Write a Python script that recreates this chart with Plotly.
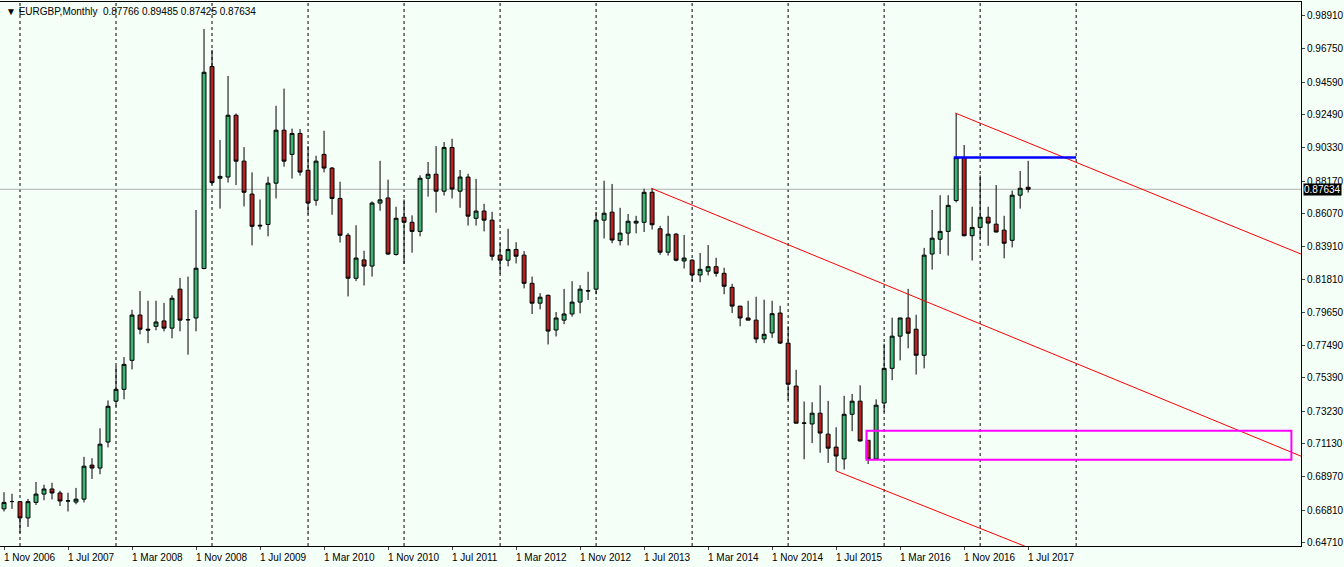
import plotly.graph_objects as go

# Monthly EURGBP candles, Nov 2006 .. Jul 2017 (index 0 = Nov 2006)
opens = [0.6689,0.6736,0.6736,0.6630,0.6731,0.6785,0.6818,0.6792,0.6740,0.6733,
         0.6752,0.6973,0.6954,0.7123,0.7388,0.7465,0.7653,0.7947,0.7855,0.7874,
         0.7909,0.7862,0.8115,0.7918,0.7928,0.8249,0.9560,0.8835,0.8843,0.9244,
         0.8946,0.8732,0.8530,0.8535,0.8803,0.9147,0.8990,0.9126,0.8887,0.8692,
         0.8990,0.8901,0.8704,0.8465,0.8186,0.8305,0.8265,0.8674,0.8707,0.8340,
         0.8582,0.8549,0.8490,0.8835,0.8861,0.8751,0.9035,0.8751,0.8843,0.8575,
         0.8622,0.8563,0.8336,0.8303,0.8373,0.8336,0.8153,0.8024,0.8075,0.7850,
         0.7914,0.7954,0.8031,0.8103,0.8115,0.8563,0.8615,0.8430,0.8479,0.8544,
         0.8549,0.8744,0.8507,0.8355,0.8472,0.8298,0.8303,0.8207,0.8232,0.8261,
         0.8218,0.8127,0.8005,0.7928,0.7914,0.7792,0.7831,0.7960,0.7765,0.7486,
         0.7245,0.7240,0.7310,0.7174,0.7090,0.7013,0.7303,0.7388,0.7134,0.7013,
         0.7376,0.7601,0.7810,0.7928,0.7855,0.7686,0.8343,0.8439,0.8490,0.8690,
         0.8969,0.8462,0.8516,0.8582,0.8537,0.8498,0.8432,0.8725,0.87766]
highs = [0.6797,0.6787,0.6740,0.6754,0.6864,0.6846,0.6858,0.6806,0.6794,0.6825,
         0.7027,0.7018,0.7212,0.7393,0.7618,0.7674,0.7981,0.8103,0.8040,0.8040,
         0.8026,0.8075,0.8188,0.8197,0.8629,0.9804,0.9668,0.9084,0.9499,0.9255,
         0.9037,0.8873,0.8697,0.8845,0.9305,0.9417,0.9157,0.9154,0.9044,0.8981,
         0.9143,0.8908,0.8812,0.8479,0.8530,0.8364,0.8685,0.8948,0.8826,0.8650,
         0.8697,0.8594,0.8854,0.8941,0.9044,0.9070,0.9091,0.8889,0.8864,0.8831,
         0.8669,0.8617,0.8420,0.8507,0.8420,0.8362,0.8197,0.8089,0.8080,0.7967,
         0.8117,0.8167,0.8141,0.8228,0.8617,0.8819,0.8798,0.8643,0.8603,0.8591,
         0.8767,0.8770,0.8526,0.8591,0.8479,0.8467,0.8310,0.8350,0.8401,0.8319,
         0.8254,0.8150,0.8005,0.8040,0.8066,0.8047,0.8040,0.8007,0.7874,0.7592,
         0.7386,0.7381,0.7491,0.7390,0.7219,0.7423,0.7435,0.7491,0.7134,0.7400,
         0.7761,0.7930,0.7930,0.8117,0.7949,0.8383,0.8629,0.8725,0.8725,0.9258,
         0.9051,0.8650,0.8854,0.8650,0.8791,0.8591,0.8755,0.8882,0.89485]
lows = [0.6672,0.6689,0.6532,0.6572,0.6714,0.6745,0.6750,0.6708,0.6672,0.6719,
        0.6731,0.6883,0.6914,0.7088,0.7353,0.7400,0.7594,0.7822,0.7764,0.7848,
        0.7841,0.7796,0.7841,0.7690,0.7841,0.8244,0.8795,0.8638,0.8807,0.8791,
        0.8652,0.8399,0.8502,0.8458,0.8704,0.8910,0.8833,0.8852,0.8601,0.8657,
        0.8873,0.8598,0.8418,0.8068,0.8167,0.8139,0.8197,0.8624,0.8338,0.8333,
        0.8279,0.8352,0.8458,0.8716,0.8612,0.8723,0.8704,0.8643,0.8528,0.8528,
        0.8490,0.8301,0.8214,0.8263,0.8282,0.8120,0.7954,0.7984,0.7756,0.7808,
        0.7888,0.7937,0.7958,0.8045,0.8082,0.8444,0.8413,0.8399,0.8399,0.8477,
        0.8486,0.8502,0.8338,0.8333,0.8296,0.8249,0.8167,0.8160,0.8204,0.8197,
        0.8082,0.7960,0.7874,0.7914,0.7765,0.7765,0.7799,0.7759,0.7395,0.7245,
        0.7011,0.7116,0.7053,0.6987,0.6935,0.6945,0.7193,0.7125,0.6980,0.7008,
        0.7317,0.7524,0.7653,0.7731,0.7561,0.7601,0.8242,0.8343,0.8333,0.8678,
        0.8458,0.8301,0.8444,0.8397,0.8483,0.8315,0.8386,0.8638,0.87425]
closes = [0.6731,0.6737,0.6630,0.6736,0.6785,0.6818,0.6792,0.6740,0.6741,0.6752,
          0.6966,0.6954,0.7109,0.7355,0.7465,0.7627,0.7947,0.7855,0.7850,0.7902,
          0.7862,0.8056,0.7914,0.7916,0.8251,0.9523,0.8807,0.8847,0.9244,0.8946,
          0.8744,0.8523,0.8526,0.8803,0.9147,0.8946,0.9126,0.8875,0.8674,0.8946,
          0.8901,0.8704,0.8465,0.8186,0.8317,0.8265,0.8674,0.8695,0.8343,0.8575,
          0.8549,0.8490,0.8835,0.8861,0.8751,0.9035,0.8765,0.8843,0.8589,0.8622,
          0.8563,0.8329,0.8303,0.8373,0.8329,0.8153,0.8024,0.8063,0.7843,0.7928,
          0.7954,0.8031,0.8115,0.8105,0.8563,0.8608,0.8434,0.8479,0.8556,0.8556,
          0.8744,0.8533,0.8355,0.8472,0.8303,0.8317,0.8207,0.8244,0.8261,0.8218,
          0.8134,0.8005,0.7928,0.7914,0.7792,0.7822,0.7956,0.7765,0.7498,0.7245,
          0.7246,0.7310,0.7181,0.7083,0.7032,0.7303,0.7388,0.7130,0.7013,0.7362,
          0.7601,0.7810,0.7928,0.7829,0.7686,0.8336,0.8446,0.8490,0.8659,0.8969,
          0.8462,0.8516,0.8582,0.8544,0.8486,0.8413,0.8725,0.8770,0.87634]

x_labels = ["1 Nov 2006","1 Jul 2007","1 Mar 2008","1 Nov 2008","1 Jul 2009","1 Mar 2010",
            "1 Nov 2010","1 Jul 2011","1 Mar 2012","1 Nov 2012","1 Jul 2013","1 Mar 2014",
            "1 Nov 2014","1 Jul 2015","1 Mar 2016","1 Nov 2016","1 Jul 2017"]
y_ticks = [0.98910,0.96750,0.94590,0.92490,0.90330,0.88170,0.86070,0.83910,0.81810,
           0.79650,0.77490,0.75390,0.73230,0.71130,0.68970,0.66810,0.64710]
year_starts = [2,14,26,38,50,62,74,86,98,110,122,134]

# drawn objects (index, price)
trend_mid = [(80.9, 0.8770), (162.1, 0.7031)]
trend_top = [(118.9, 0.9258), (162.1, 0.8343)]
trend_low = [(104.0, 0.6935), (162.1, 0.5732)]
blue_level = [(118.7, 0.8969), (134.0, 0.8969)]
zone = [(107.8, 0.7008), (160.9, 0.7196)]
last_price = 0.87634

BG = "#F4FFF8"
FONT = "Liberation Sans"
idx = list(range(len(opens)))
fig = go.Figure()
fig.add_trace(go.Candlestick(
    x=idx, open=opens, high=highs, low=lows, close=closes,
    increasing=dict(fillcolor="#3CB371", line=dict(color="black", width=1)),
    decreasing=dict(fillcolor="#B22222", line=dict(color="black", width=1)),
    whiskerwidth=0, showlegend=False, hoverinfo="skip"))

for xg in year_starts:
    fig.add_vline(x=xg, line=dict(color="black", width=1, dash="3px,3px"), layer="below")
fig.add_hline(y=last_price, line=dict(color="#B0B0B0", width=1), layer="below")

for ln in (trend_mid, trend_top, trend_low):
    fig.add_trace(go.Scatter(x=[p[0] for p in ln], y=[p[1] for p in ln], mode="lines",
                             line=dict(color="red", width=1), showlegend=False, hoverinfo="skip"))
fig.add_trace(go.Scatter(x=[p[0] for p in blue_level], y=[p[1] for p in blue_level], mode="lines",
                         line=dict(color="#0000FF", width=2.5), showlegend=False, hoverinfo="skip"))
fig.add_shape(type="rect", x0=zone[0][0], x1=zone[1][0], y0=zone[0][1], y1=zone[1][1],
              line=dict(color="#FF00FF", width=2))

tickvals_x = [8 * k for k in range(len(x_labels))]
for tv, lab in zip(tickvals_x, x_labels):
    fig.add_annotation(x=tv, y=0, yref="paper", yanchor="top", xanchor="left", xshift=-2, yshift=-4,
                       text=lab, showarrow=False, font=dict(size=10, color="black", family=FONT))

fig.add_annotation(x=1, xref="paper", y=last_price, xanchor="left", xshift=2, text="0.87634",
                   showarrow=False, bgcolor="black", font=dict(size=10, color="white", family=FONT),
                   borderpad=0)
fig.add_annotation(x=0, xref="paper", y=1, yref="paper", xanchor="left", yanchor="top", xshift=4, yshift=-2,
                   text="▼ EURGBP,Monthly  0.87766 0.89485 0.87425 0.87634", showarrow=False,
                   font=dict(size=10, color="black", family=FONT))

fig.update_layout(
    width=1344, height=567, margin=dict(l=0, r=43, t=2, b=21),
    paper_bgcolor=BG, plot_bgcolor=BG,
    xaxis=dict(range=[-0.5, 162.1], tickvals=tickvals_x, ticktext=[""] * len(tickvals_x),
               ticks="outside", ticklen=3, showgrid=False, zeroline=False,
               showline=True, linecolor="black", mirror=True, rangeslider=dict(visible=False)),
    yaxis=dict(range=[0.6448, 0.9979], side="right", tickvals=y_ticks,
               ticktext=[f"{v:.5f}" for v in y_ticks], ticks="outside", ticklen=3,
               showgrid=False, zeroline=False, showline=True, linecolor="black", mirror=True,
               tickfont=dict(size=10, color="black", family=FONT)),
)
fig.write_html("out.html", config={"displayModeBar": False, "staticPlot": True})
with open("out.html", encoding="utf-8") as fh:
    html = fh.read()
html = html.replace("<head>", "<head><style>html,body{margin:0;padding:0;overflow:hidden;background:%s}</style>" % BG, 1)
with open("out.html", "w", encoding="utf-8") as fh:
    fh.write(html)
